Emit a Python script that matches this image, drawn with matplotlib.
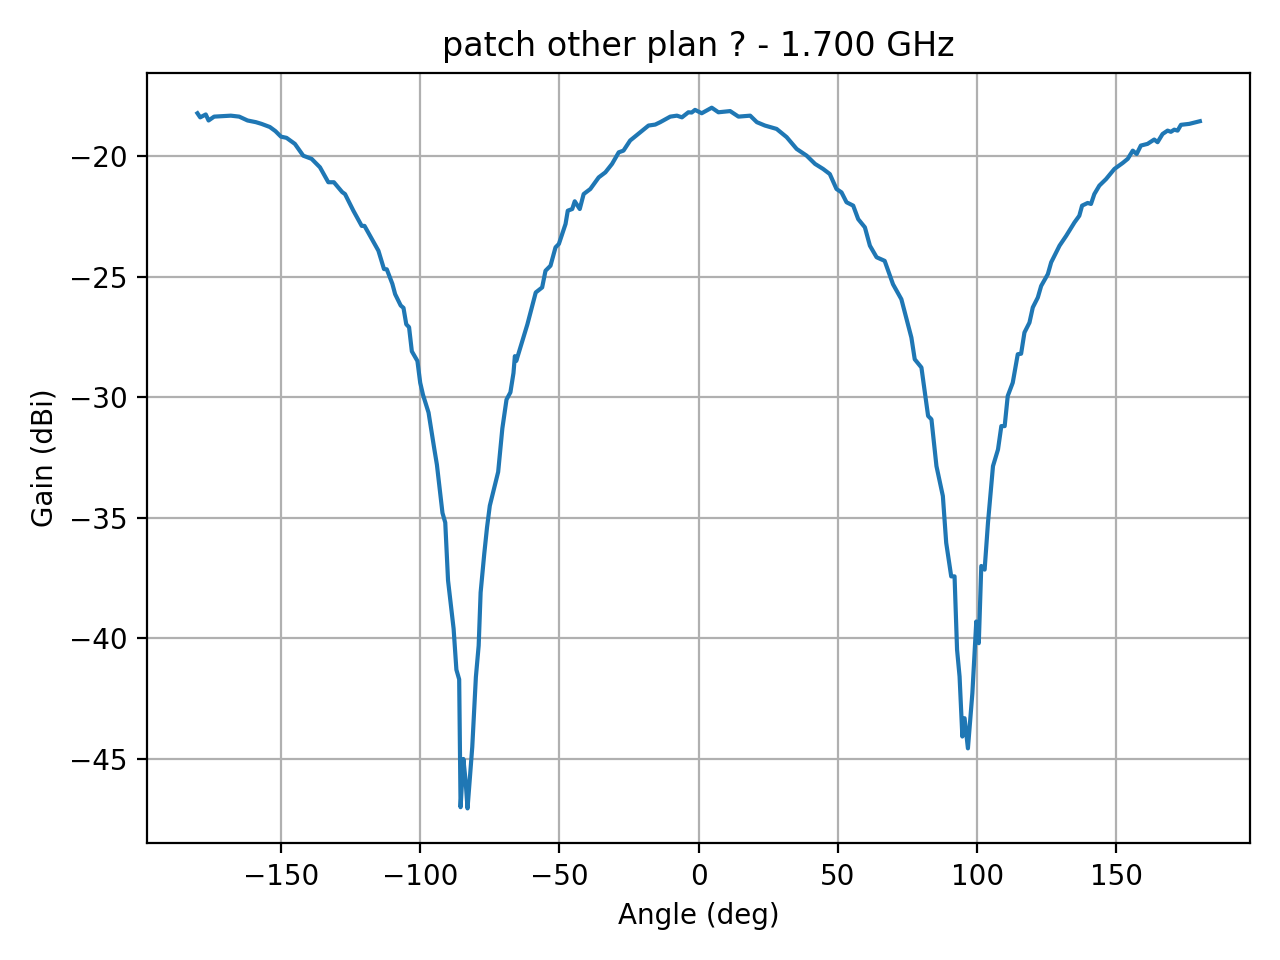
import matplotlib
matplotlib.use("Agg")
import matplotlib.pyplot as plt

angle = [-180, -179, -177, -176, -174, -168, -165, -162, -159, -157,
         -154, -152, -150, -148, -145, -142, -139, -136, -133, -131,
         -128, -127, -124, -121, -120, -116, -115, -113, -112, -110,
         -109, -107, -106, -105, -104, -103, -101, -100, -99, -97,
         -95, -94, -92, -91, -90, -88, -87, -86, -85.5, -84.5,
         -83.7, -83, -81.3, -80, -79, -78.3, -77, -76, -75, -72,
         -70.5, -69, -67.6, -66.5, -66, -65.5, -61.5, -58.5, -56.2, -55,
         -53.2, -51.4, -50.2, -47.8, -47, -45.4, -44.5, -42.7, -41.3, -38.9,
         -35.9, -33.5, -31.1, -28.7, -27, -24.6, -21, -18, -15.6, -13.8,
         -10.2, -7.8, -6, -3.7, -2.5, -1.3, 1.1, 4.7, 7.1, 11.3,
         14.3, 18.5, 20.9, 23.8, 28, 31.6, 35.2, 38.8, 41.8, 44.7,
         47.1, 49.5, 51.3, 53.1, 55.5, 57.3, 59.7, 61.5, 63.9, 66.8,
         69.8, 72.8, 76.4, 77.6, 80, 82.4, 83.6, 85.4, 87.7, 88.9,
         90.7, 91.9, 92.8, 93.7, 94.7, 95.5, 96.7, 98.3, 99.7, 100.6,
         101.5, 102.7, 103.9, 105.7, 107.5, 108.7, 109.9, 111, 112.8, 114.6,
         115.8, 117, 118.8, 120, 121.8, 123, 125.4, 126.6, 129.6, 132,
         135, 136.7, 137.7, 139.7, 140.9, 142.1, 143.9, 146.3, 149.3, 152.3,
         154.1, 155.9, 157.3, 158.8, 161.2, 163.6, 164.8, 166.6, 168.4, 169.6,
         170.8, 172, 173.2, 176.2, 180]

gain = [-18.23, -18.40, -18.28, -18.53, -18.37, -18.33, -18.37, -18.53, -18.60, -18.67,
        -18.80, -18.97, -19.20, -19.25, -19.50, -19.99, -20.12, -20.47, -21.09, -21.09,
        -21.50, -21.58, -22.27, -22.90, -22.90, -23.72, -23.93, -24.69, -24.70, -25.30,
        -25.73, -26.20, -26.30, -26.98, -27.10, -28.10, -28.50, -29.40, -29.90, -30.64,
        -32.10, -32.80, -34.80, -35.20, -37.60, -39.60, -41.30, -41.70, -47.00, -45.00,
        -45.90, -47.05, -44.50, -41.60, -40.30, -38.10, -36.50, -35.40, -34.50, -33.10,
        -31.30, -30.10, -29.80, -29.00, -28.30, -28.50, -26.98, -25.66, -25.45, -24.76,
        -24.55, -23.79, -23.65, -22.82, -22.27, -22.20, -21.88, -22.20, -21.58, -21.37,
        -20.89, -20.68, -20.33, -19.85, -19.78, -19.36, -19.02, -18.74, -18.70, -18.60,
        -18.37, -18.33, -18.40, -18.19, -18.20, -18.09, -18.23, -18.00, -18.19, -18.14,
        -18.37, -18.33, -18.60, -18.74, -18.88, -19.22, -19.71, -19.99, -20.33, -20.54,
        -20.75, -21.37, -21.51, -21.92, -22.06, -22.62, -22.96, -23.72, -24.20, -24.35,
        -25.32, -25.94, -27.53, -28.43, -28.77, -30.78, -30.92, -32.86, -34.10, -36.04,
        -37.43, -37.43, -40.47, -41.58, -44.07, -43.31, -44.56, -42.27, -39.30, -40.20,
        -37.00, -37.15, -35.21, -32.86, -32.17, -31.20, -31.20, -29.95, -29.40, -28.22,
        -28.20, -27.32, -26.91, -26.28, -25.87, -25.39, -24.90, -24.41, -23.72, -23.31,
        -22.75, -22.48, -22.06, -21.95, -21.99, -21.58, -21.23, -20.96, -20.54, -20.29,
        -20.12, -19.78, -19.92, -19.57, -19.50, -19.32, -19.43, -19.09, -18.95, -19.00,
        -18.91, -18.95, -18.71, -18.67, -18.56]

fig, ax = plt.subplots(figsize=(6.4, 4.8), dpi=200)

ax.plot(angle, gain)

ax.set_title('patch other plan ? - 1.700 GHz')
ax.set_xlabel('Angle (deg)')
ax.set_ylabel('Gain (dBi)')
ax.grid(True)

plt.tight_layout()
plt.savefig('out.png')
